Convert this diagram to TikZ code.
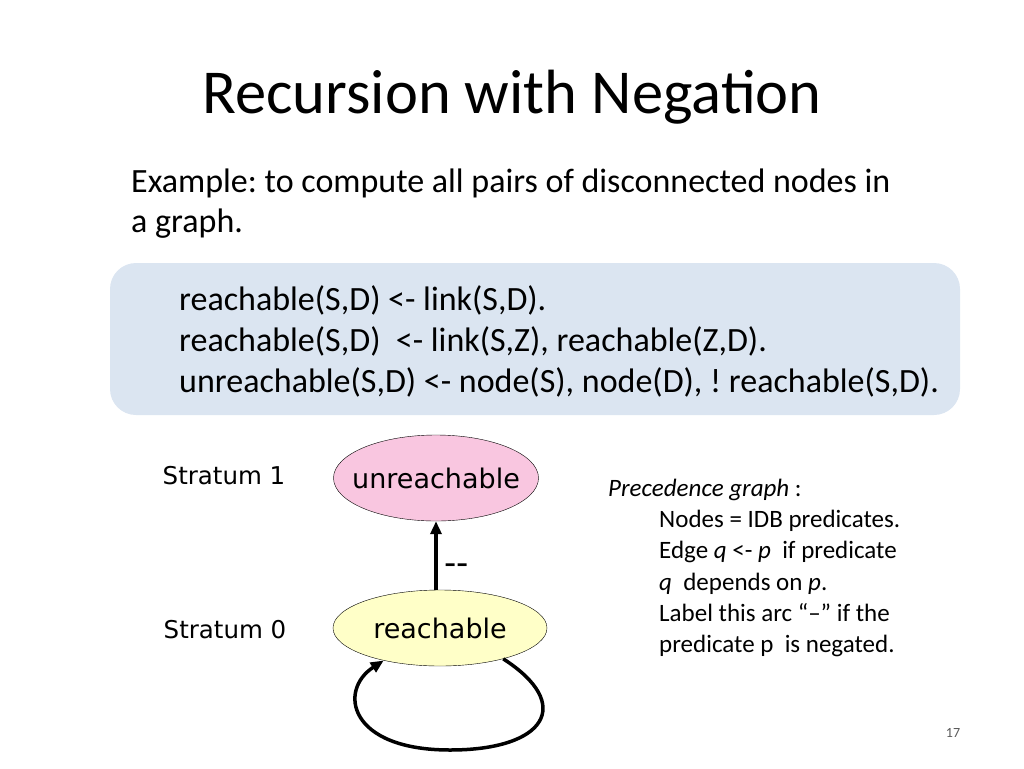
\documentclass[tikz,border=0pt]{standalone}
\usepackage{fontspec}
\setmainfont{Carlito}
\newfontfamily\graphfont{DejaVu Sans}
\usepackage{xcolor}
\usetikzlibrary{shapes.geometric,arrows.meta}

\definecolor{boxblue}{HTML}{DBE5F1}
\definecolor{unreachpink}{HTML}{F9C6E0}
\definecolor{reachyellow}{HTML}{FFFFC8}

\tikzset{
  predicate/.style={draw=black, ellipse, inner ysep=0pt, inner xsep=-14pt, font=\graphfont\fontsize{27}{30}\selectfont},
  stratum/.style={font=\graphfont\fontsize{24.5}{28}\selectfont},
  depedge/.style={-{Triangle[length=13pt,width=11pt]}, line width=3.5pt, black},
}

\begin{document}
\frenchspacing
\begin{tikzpicture}[x=1pt, y=-1pt]
            \useasboundingbox (0,0) rectangle (1024,768);
            \node[anchor=center, font=\fontsize{62.5}{70}\selectfont](title) at (512,97){Recursion with Negation};
            \node[anchor=north west, align=left, inner sep=0pt, font=\fontsize{34}{40}\selectfont](intro) at (131,169){Example: to compute all pairs of disconnected nodes in\\a graph.};
            % rules
            \node[fill=boxblue, rounded corners=26pt, minimum width=850pt, minimum height=152pt](rules) at (535,339){};
            \node[anchor=north west, align=left, inner sep=0pt, font=\fontsize{34}{41}\selectfont](code) at (179,285){reachable(S,D) <- link(S,D).\\reachable(S,D)\ \ <- link(S,Z), reachable(Z,D).\\unreachable(S,D) <- node(S), node(D), ! reachable(S,D).};
            % precedence graph
            \node[predicate, fill=unreachpink, minimum width=205pt, minimum height=86pt](unreach) at (436,478){unreachable};
            \node[predicate, fill=reachyellow, minimum width=214pt, minimum height=76pt](reach) at (440,628){reachable};
            \node[stratum](s1) at (224,476){Stratum 1};
            \node[stratum](s0) at (225,630){Stratum 0};
            \draw[depedge] (reach.north -| unreach.south) -- (unreach.south) node[midway, right, xshift=3pt, yshift=-14pt, font=\graphfont\fontsize{34}{36}\selectfont] {--};
            \draw[depedge] (reach.-26) .. controls (575,705) and (545,750) .. (450,750) .. controls (348,750) and (338,690) .. (reach.-150);
            \node[anchor=north west, align=left, inner sep=0pt, font=\fontsize{25}{31.2}\selectfont](legend) at (608,479){\textit{Precedence graph} :\\
              \hspace{51pt}Nodes = IDB predicates.\\
              \hspace{51pt}Edge \textit{q} <- \textit{p}\ \ if predicate\\
              \hspace{51pt}\textit{q}\ \ depends on \textit{p}.\\
              \hspace{51pt}Label this arc “–” if the\\
              \hspace{51pt}predicate p\ \ is negated.};
            \node[text=gray!70!black, font=\fontsize{14}{16}\selectfont](page) at (953,733){17};
        \end{tikzpicture}
\end{document}
